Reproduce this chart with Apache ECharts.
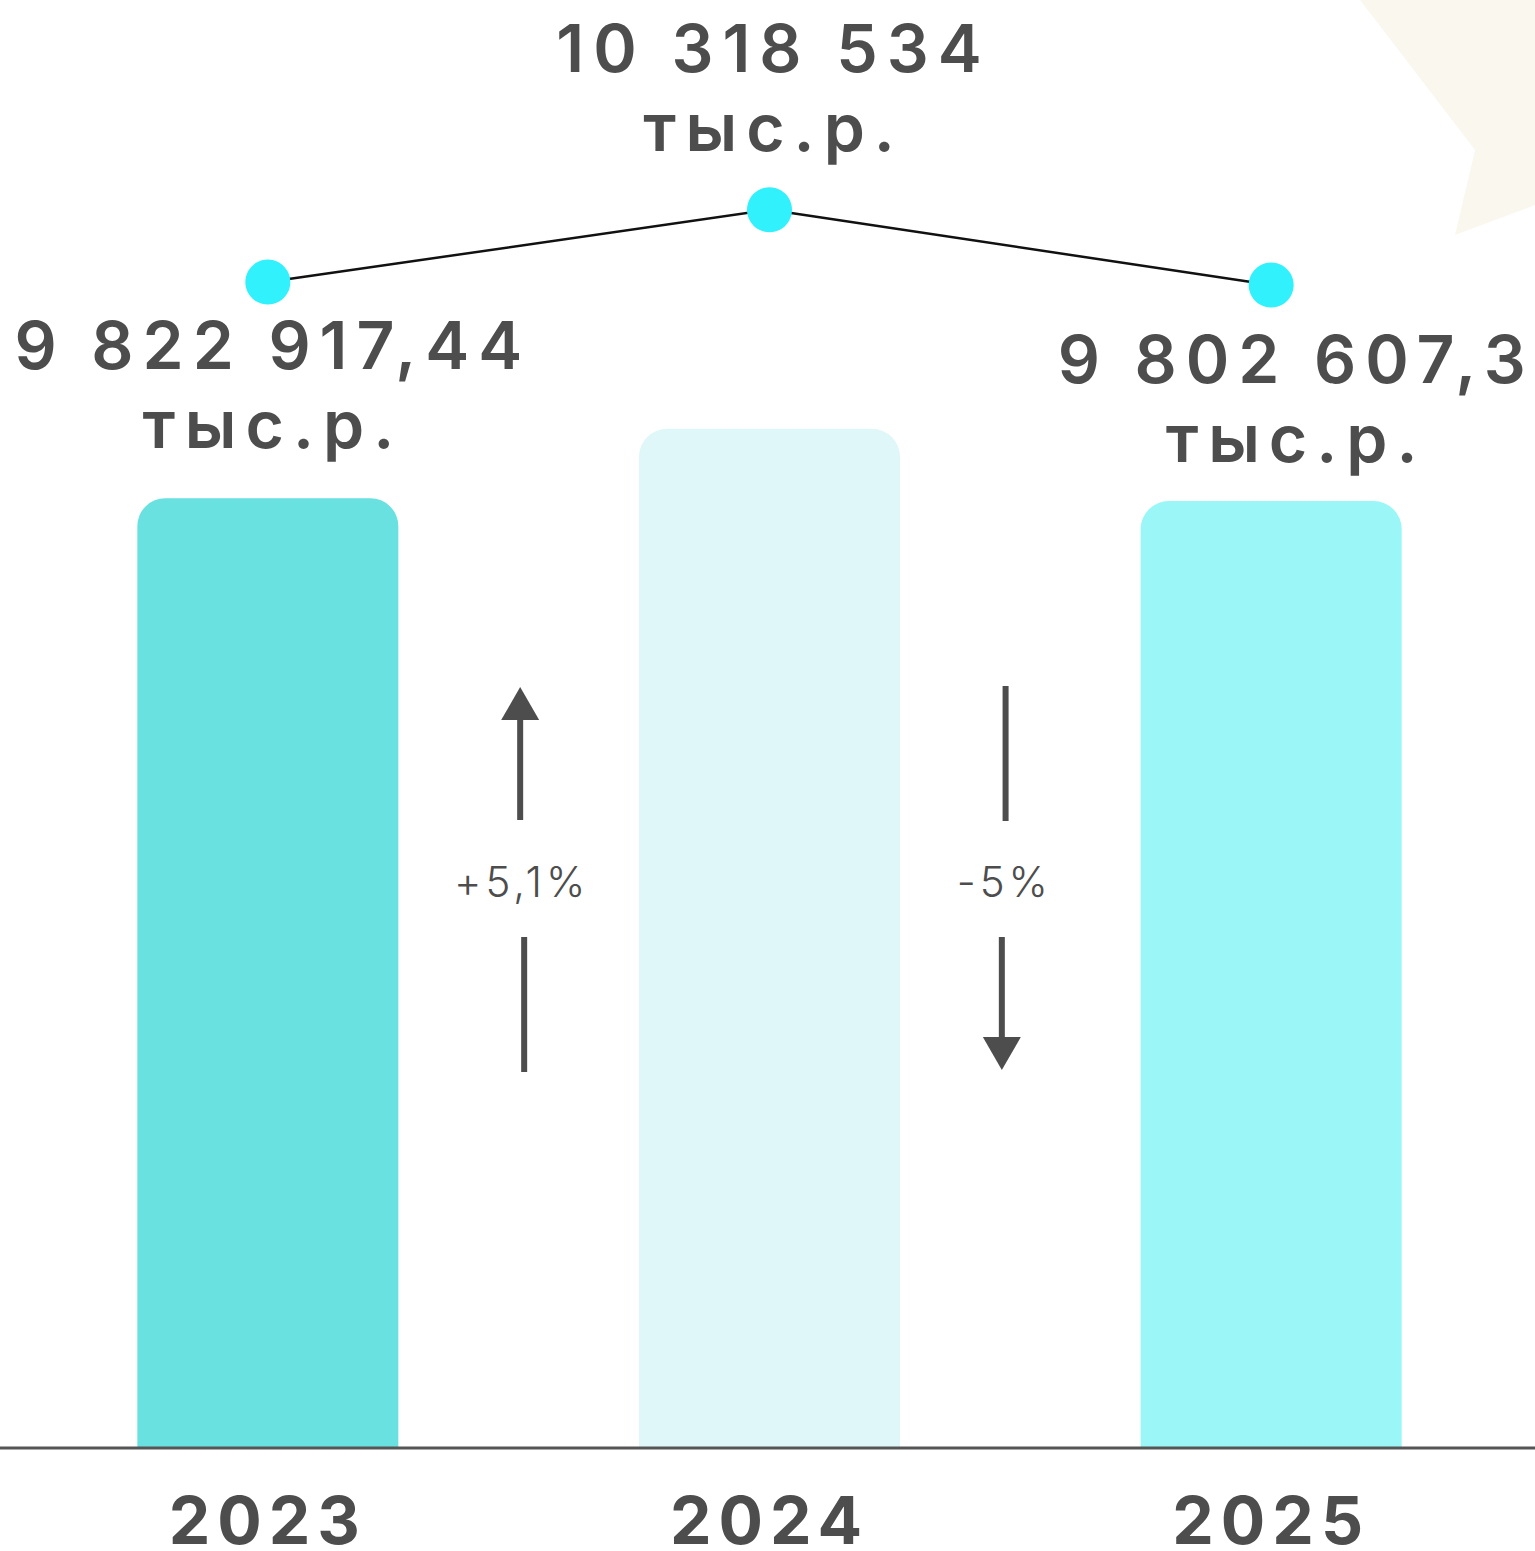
<!DOCTYPE html>
<html><head><meta charset="utf-8">
<style>
html,body{margin:0;padding:0;background:#fff;overflow:hidden;}
#chart{width:1535px;height:1551px;}
#chart text[style*="600"], #chart text[font-weight="600"]{letter-spacing:9px;}
#chart text[style*="bold"], #chart text[font-weight="bold"]{letter-spacing:7px;}
#chart text[style*="300"], #chart text[font-weight="300"]{letter-spacing:4px;}
</style>
<script src="https://cdn.jsdelivr.net/npm/echarts@6/dist/echarts.min.js"></script>
</head><body><div id="chart"></div>
<script>
// ---- data ----
const years = ['2023', '2024', '2025'];
const revenue = [9822917.44, 10318534, 9802607.3];
const unitLabel = 'тыс.р.';
const changeLabels = ['+5,1%', '-5%'];
const changeDirections = ['up', 'down'];
const barColors = ['#69e1e0', '#dff7f8', '#9bf7f7'];

// ---- helpers ----
function fmt(v) {
  const parts = String(v).split('.');
  const intPart = parts[0].replace(/\B(?=(\d{3})+(?!\d))/g, ' ');
  return parts.length > 1 ? intPart + ',' + parts[1] : intPart;
}
const TXT = '#4d4d4d';
const FONT = 'Inter';
const labelCfg = [
  { position: 'bottom', distance: 1, offset: [5, 0] },
  { position: 'top', distance: 21, offset: [4, 0] },
  { position: 'bottom', distance: 12, offset: [25, 0] }
];

const chart = echarts.init(document.getElementById('chart'), null, { renderer: 'svg' });
chart.setOption({
  animation: false,
  backgroundColor: '#ffffff',
  grid: { left: 17, right: 13, top: 0, bottom: 103, outerBoundsMode: 'none', containLabel: false },
  xAxis: {
    type: 'category',
    data: years,
    axisLine: { show: false },
    axisTick: { show: false },
    axisLabel: { margin: 44, fontSize: 66, lineHeight: 56, fontWeight: 'bold', color: TXT, fontFamily: FONT }
  },
  yAxis: [
    { type: 'value', min: 3038000, max: 13381600, show: false, splitLine: { show: false } },
    { type: 'value', min: 1833000, max: 11756000, show: false, splitLine: { show: false } }
  ],
  series: [
    {
      type: 'bar',
      barWidth: 261,
      data: revenue.map((v, i) => ({
        value: v,
        itemStyle: { color: barColors[i], borderRadius: [28, 28, 0, 0] }
      })),
      z: 2
    },
    {
      type: 'line',
      yAxisIndex: 1,
      symbol: 'circle',
      symbolSize: 45,
      itemStyle: { color: '#30f1fc' },
      lineStyle: { color: '#111111', width: 2.5 },
      z: 5,
      data: revenue.map((v, i) => ({
        value: v,
        label: {
          show: true,
          position: labelCfg[i].position,
          distance: labelCfg[i].distance,
          offset: labelCfg[i].offset,
          formatter: () => fmt(v) + '\n' + unitLabel,
          fontSize: 66,
          fontWeight: 600,
          fontFamily: FONT,
          color: TXT,
          lineHeight: 79,
          align: 'center'
        }
      }))
    }
  ]
});

// ---- annotations (computed from axis positions) ----
const base = chart.convertToPixel({ yAxisIndex: 0 }, 3038000);
const xs = years.map(y => chart.convertToPixel({ xAxisIndex: 0 }, y));
const arrowGeom = [
  { top: 1.5, bottom: 5.5, text: 3 },
  { top: -14.75, bottom: -18.5, text: -16 }
];
const graphics = [
  {
    type: 'polygon', z: -10, silent: true,
    shape: { points: [[1360, 0], [1535, 0], [1535, 205], [1455, 235], [1475, 150]] },
    style: { fill: '#faf8ee' }
  },
  {
    type: 'rect', z: 10,
    shape: { x: 0, y: base - 1.5, width: 1535, height: 3 },
    style: { fill: '#555555' }
  }
];
changeLabels.forEach((lab, i) => {
  const mid = (xs[i] + xs[i + 1]) / 2;
  const g = arrowGeom[i];
  const tx = mid + g.top, bx = mid + g.bottom;
  if (changeDirections[i] === 'up') {
    graphics.push({ type: 'rect', shape: { x: tx - 3, y: 716, width: 6, height: 104 }, style: { fill: TXT } });
    graphics.push({ type: 'polygon', shape: { points: [[tx - 19, 720], [tx + 19, 720], [tx, 687]] }, style: { fill: TXT } });
    graphics.push({ type: 'rect', shape: { x: bx - 3, y: 937, width: 6, height: 135 }, style: { fill: TXT } });
  } else {
    graphics.push({ type: 'rect', shape: { x: tx - 3, y: 686, width: 6, height: 135 }, style: { fill: TXT } });
    graphics.push({ type: 'rect', shape: { x: bx - 3, y: 937, width: 6, height: 104 }, style: { fill: TXT } });
    graphics.push({ type: 'polygon', shape: { points: [[bx - 19, 1037], [bx + 19, 1037], [bx, 1070]] }, style: { fill: TXT } });
  }
  graphics.push({
    type: 'text',
    style: {
      text: lab, x: mid + g.text, y: 881, align: 'center', verticalAlign: 'middle',
      font: '300 42px Inter', fill: TXT
    }
  });
});
chart.setOption({ graphic: graphics });
</script>
</body></html>
